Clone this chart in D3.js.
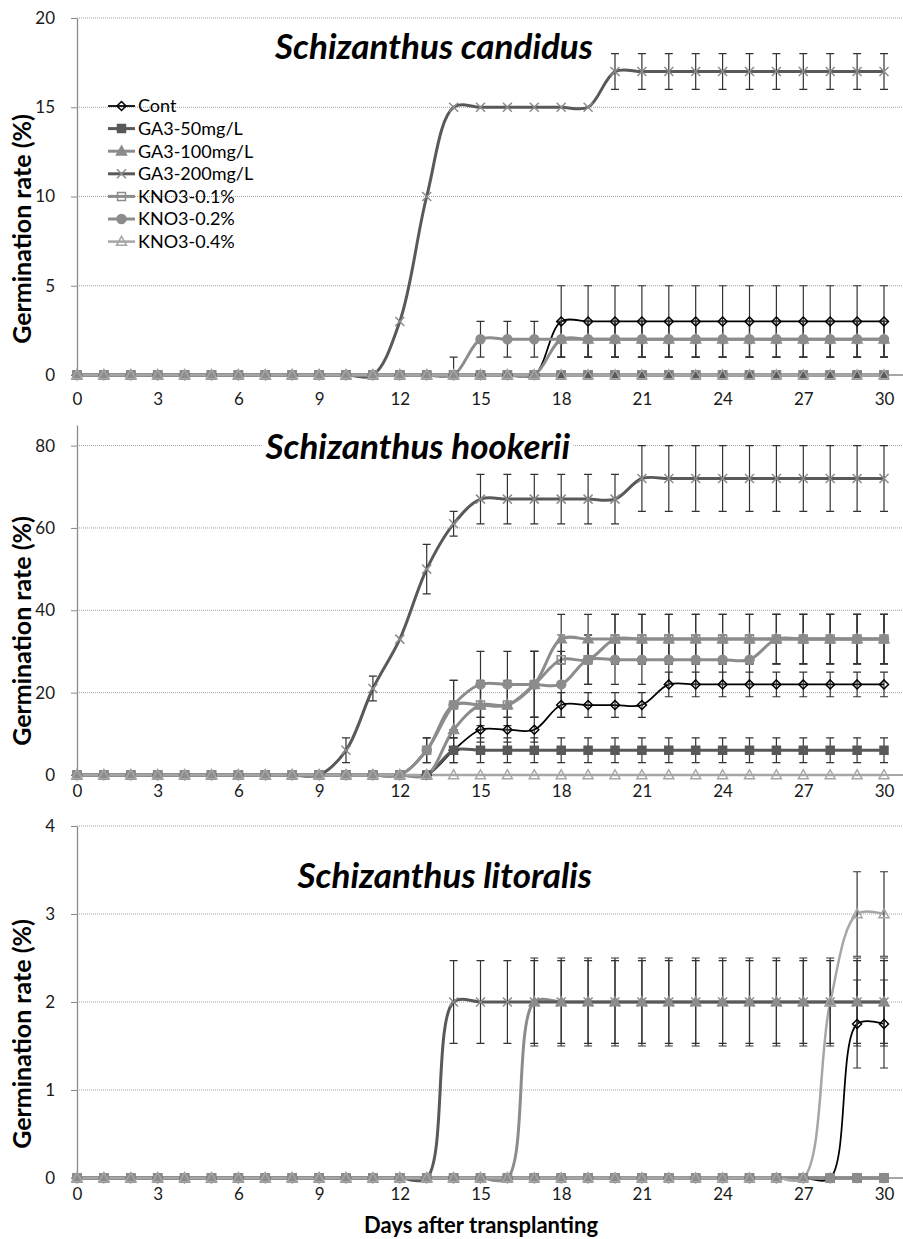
<!DOCTYPE html>
<html>
<head>
<meta charset="utf-8">
<script src="https://cdn.jsdelivr.net/npm/d3@7"></script>
<style>
  body { margin: 0; background: #fff; }
  svg { display: block; font-family: Lato, "Open Sans", sans-serif; }
</style>
</head>
<body>
<svg id="chart" width="903" height="1239"></svg>
<script>
// ---- data ----
var days = [0,1,2,3,4,5,6,7,8,9,10,11,12,13,14,15,16,17,18,19,20,21,22,23,24,25,26,27,28,29,30];
var xTicks = [0,3,6,9,12,15,18,21,24,27,30];
var seriesNames = ['Cont', 'GA3-50mg/L', 'GA3-100mg/L', 'GA3-200mg/L', 'KNO3-0.1%', 'KNO3-0.2%', 'KNO3-0.4%'];

// Schizanthus candidus
var candidusTicks = [0, 5, 10, 15, 20];
var candidusCont   = [0,0,0,0,0,0,0,0,0,0,0,0,0,0,0,0,0,0,3,3,3,3,3,3,3,3,3,3,3,3,3];
var candidusGA50   = [0,0,0,0,0,0,0,0,0,0,0,0,0,0,0,0,0,0,0,0,0,0,0,0,0,0,0,0,0,0,0];
var candidusGA100  = [0,0,0,0,0,0,0,0,0,0,0,0,0,0,0,0,0,0,2,2,2,2,2,2,2,2,2,2,2,2,2];
var candidusGA200  = [0,0,0,0,0,0,0,0,0,0,0,0,3,10,15,15,15,15,15,15,17,17,17,17,17,17,17,17,17,17,17];
var candidusKNO01  = [0,0,0,0,0,0,0,0,0,0,0,0,0,0,0,0,0,0,0,0,0,0,0,0,0,0,0,0,0,0,0];
var candidusKNO02  = [0,0,0,0,0,0,0,0,0,0,0,0,0,0,0,2,2,2,2,2,2,2,2,2,2,2,2,2,2,2,2];
var candidusKNO04  = [0,0,0,0,0,0,0,0,0,0,0,0,0,0,0,0,0,0,0,0,0,0,0,0,0,0,0,0,0,0,0];
var candidusContErr  = [0,0,0,0,0,0,0,0,0,0,0,0,0,0,0,0,0,0,2,2,2,2,2,2,2,2,2,2,2,2,2];
var candidusGA50Err  = [0,0,0,0,0,0,0,0,0,0,0,0,0,0,0,0,0,0,0,0,0,0,0,0,0,0,0,0,0,0,0];
var candidusGA100Err = [0,0,0,0,0,0,0,0,0,0,0,0,0,0,0,0,0,0,1,1,1,1,1,1,1,1,1,1,1,1,1];
var candidusGA200Err = [0,0,0,0,0,0,0,0,0,0,0,0,0,0,0,0,0,0,0,0,1,1,1,1,1,1,1,1,1,1,1];
var candidusKNO01Err = [0,0,0,0,0,0,0,0,0,0,0,0,0,0,0,0,0,0,0,0,0,0,0,0,0,0,0,0,0,0,0];
var candidusKNO02Err = [0,0,0,0,0,0,0,0,0,0,0,0,0,0,1,1,1,1,1,1,1,1,1,1,1,1,1,1,1,1,1];
var candidusKNO04Err = [0,0,0,0,0,0,0,0,0,0,0,0,0,0,0,0,0,0,0,0,0,0,0,0,0,0,0,0,0,0,0];

// Schizanthus hookerii
var hookeriiTicks = [0, 20, 40, 60, 80];
var hookeriiCont   = [0,0,0,0,0,0,0,0,0,0,0,0,0,0,6,11,11,11,17,17,17,17,22,22,22,22,22,22,22,22,22];
var hookeriiGA50   = [0,0,0,0,0,0,0,0,0,0,0,0,0,0,6,6,6,6,6,6,6,6,6,6,6,6,6,6,6,6,6];
var hookeriiGA100  = [0,0,0,0,0,0,0,0,0,0,0,0,0,0,11,17,17,22,33,33,33,33,33,33,33,33,33,33,33,33,33];
var hookeriiGA200  = [0,0,0,0,0,0,0,0,0,0,6,21,33,50,61,67,67,67,67,67,67,72,72,72,72,72,72,72,72,72,72];
var hookeriiKNO01  = [0,0,0,0,0,0,0,0,0,0,0,0,0,6,17,17,17,22,28,28,33,33,33,33,33,33,33,33,33,33,33];
var hookeriiKNO02  = [0,0,0,0,0,0,0,0,0,0,0,0,0,6,17,22,22,22,22,28,28,28,28,28,28,28,33,33,33,33,33];
var hookeriiKNO04  = [0,0,0,0,0,0,0,0,0,0,0,0,0,0,0,0,0,0,0,0,0,0,0,0,0,0,0,0,0,0,0];
var hookeriiContErr  = [0,0,0,0,0,0,0,0,0,0,0,0,0,0,3,3,3,3,3,3,3,3,3,3,3,3,3,3,3,3,3];
var hookeriiGA50Err  = [0,0,0,0,0,0,0,0,0,0,0,0,0,0,3,3,3,3,3,3,3,3,3,3,3,3,3,3,3,3,3];
var hookeriiGA100Err = [0,0,0,0,0,0,0,0,0,0,0,0,0,0,6,5,5,8,6,6,6,6,6,6,6,6,6,6,6,6,6];
var hookeriiGA200Err = [0,0,0,0,0,0,0,0,0,0,3,3,0,6,3,6,6,6,6,6,6,8,8,8,8,8,8,8,8,8,8];
var hookeriiKNO01Err = [0,0,0,0,0,0,0,0,0,0,0,0,0,3,6,6,6,8,6,6,6,6,6,6,6,6,6,6,6,6,6];
var hookeriiKNO02Err = [0,0,0,0,0,0,0,0,0,0,0,0,0,3,6,8,8,8,8,6,6,6,6,6,6,6,6,6,6,6,6];
var hookeriiKNO04Err = [0,0,0,0,0,0,0,0,0,0,0,0,0,0,0,0,0,0,0,0,0,0,0,0,0,0,0,0,0,0,0];

// Schizanthus litoralis
var litoralisTicks = [0, 1, 2, 3, 4];
var litoralisCont   = [0,0,0,0,0,0,0,0,0,0,0,0,0,0,0,0,0,0,0,0,0,0,0,0,0,0,0,0,0,1.75,1.75];
var litoralisGA50   = [0,0,0,0,0,0,0,0,0,0,0,0,0,0,0,0,0,0,0,0,0,0,0,0,0,0,0,0,0,0,0];
var litoralisGA100  = [0,0,0,0,0,0,0,0,0,0,0,0,0,0,0,0,0,2,2,2,2,2,2,2,2,2,2,2,2,2,2];
var litoralisGA200  = [0,0,0,0,0,0,0,0,0,0,0,0,0,0,2,2,2,2,2,2,2,2,2,2,2,2,2,2,2,2,2];
var litoralisKNO01  = [0,0,0,0,0,0,0,0,0,0,0,0,0,0,0,0,0,0,0,0,0,0,0,0,0,0,0,0,0,0,0];
var litoralisKNO02  = [0,0,0,0,0,0,0,0,0,0,0,0,0,0,0,0,0,0,0,0,0,0,0,0,0,0,0,0,0,0,0];
var litoralisKNO04  = [0,0,0,0,0,0,0,0,0,0,0,0,0,0,0,0,0,0,0,0,0,0,0,0,0,0,0,0,2,3,3];
var litoralisContErr  = [0,0,0,0,0,0,0,0,0,0,0,0,0,0,0,0,0,0,0,0,0,0,0,0,0,0,0,0,0,0.5,0.5];
var litoralisGA50Err  = [0,0,0,0,0,0,0,0,0,0,0,0,0,0,0,0,0,0,0,0,0,0,0,0,0,0,0,0,0,0,0];
var litoralisGA100Err = [0,0,0,0,0,0,0,0,0,0,0,0,0,0,0,0,0,0.5,0.5,0.5,0.5,0.5,0.5,0.5,0.5,0.5,0.5,0.5,0.5,0.5,0.5];
var litoralisGA200Err = [0,0,0,0,0,0,0,0,0,0,0,0,0,0,0.47,0.47,0.47,0.47,0.47,0.47,0.47,0.47,0.47,0.47,0.47,0.47,0.47,0.47,0.47,0.47,0.47];
var litoralisKNO01Err = [0,0,0,0,0,0,0,0,0,0,0,0,0,0,0,0,0,0,0,0,0,0,0,0,0,0,0,0,0,0,0];
var litoralisKNO02Err = [0,0,0,0,0,0,0,0,0,0,0,0,0,0,0,0,0,0,0,0,0,0,0,0,0,0,0,0,0,0,0];
var litoralisKNO04Err = [0,0,0,0,0,0,0,0,0,0,0,0,0,0,0,0,0,0,0,0,0,0,0,0,0,0,0,0,0,0.48,0.48];

// ---- look ----
var styles = [
    { line: '#000000', width: 1.75, marker: 'diamond',  fill: 'none',    edge: '#000000', r: 4.5 },
    { line: '#595959', width: 3,    marker: 'square',   fill: '#595959', edge: '#595959', r: 4 },
    { line: '#8c8c8c', width: 3,    marker: 'triangle', fill: '#8c8c8c', edge: '#8c8c8c', r: 5 },
    { line: '#595959', width: 3,    marker: 'x',        fill: 'none',    edge: '#8c8c8c', r: 4.5 },
    { line: '#8c8c8c', width: 3,    marker: 'square',   fill: 'none',    edge: '#8c8c8c', r: 4 },
    { line: '#8c8c8c', width: 3,    marker: 'circle',   fill: '#8c8c8c', edge: '#8c8c8c', r: 4.5 },
    { line: '#a6a6a6', width: 2.5,  marker: 'triangle', fill: 'none',    edge: '#a6a6a6', r: 5 }
];

var panels = [
    { title: 'Schizanthus candidus', ticks: candidusTicks, yMax: 20, top: 18, zero: 375,
      titleX: 593, titleY: 59, labelPad: 18, yTitleY: 229, legend: true,
      values: [candidusCont, candidusGA50, candidusGA100, candidusGA200, candidusKNO01, candidusKNO02, candidusKNO04],
      errors: [candidusContErr, candidusGA50Err, candidusGA100Err, candidusGA200Err, candidusKNO01Err, candidusKNO02Err, candidusKNO04Err] },
    { title: 'Schizanthus hookerii', ticks: hookeriiTicks, yMax: 85, top: 425, zero: 775,
      titleX: 570, titleY: 459, labelPad: 10, yTitleY: 631, legend: false,
      values: [hookeriiCont, hookeriiGA50, hookeriiGA100, hookeriiGA200, hookeriiKNO01, hookeriiKNO02, hookeriiKNO04],
      errors: [hookeriiContErr, hookeriiGA50Err, hookeriiGA100Err, hookeriiGA200Err, hookeriiKNO01Err, hookeriiKNO02Err, hookeriiKNO04Err] },
    { title: 'Schizanthus litoralis', ticks: litoralisTicks, yMax: 4, top: 826, zero: 1178,
      titleX: 592, titleY: 888, labelPad: 10, yTitleY: 1034, legend: false,
      values: [litoralisCont, litoralisGA50, litoralisGA100, litoralisGA200, litoralisKNO01, litoralisKNO02, litoralisKNO04],
      errors: [litoralisContErr, litoralisGA50Err, litoralisGA100Err, litoralisGA200Err, litoralisKNO01Err, litoralisKNO02Err, litoralisKNO04Err] }
];

var svg = d3.select('#chart');
var width = 903;
var x = d3.scaleLinear().domain([0, 30]).range([77, 884]);

var markerPath = function (type, r) {
    if (type === 'diamond') return 'M0,' + (-r) + 'L' + r + ',0L0,' + r + 'L' + (-r) + ',0Z';
    if (type === 'square') return 'M' + (-r) + ',' + (-r) + 'h' + 2 * r + 'v' + 2 * r + 'h' + (-2 * r) + 'Z';
    if (type === 'triangle') return 'M0,' + (-r * 1.05) + 'L' + r + ',' + (r * 0.75) + 'L' + (-r) + ',' + (r * 0.75) + 'Z';
    if (type === 'x') return 'M' + (-r) + ',' + (-r) + 'L' + r + ',' + r + 'M' + (-r) + ',' + r + 'L' + r + ',' + (-r);
    return d3.symbol().type(d3.symbolCircle).size(Math.PI * r * r)();
};

var drawMarker = function (sel, st) {
    sel.append('path')
        .attr('d', markerPath(st.marker, st.r))
        .attr('fill', st.fill)
        .attr('stroke', st.edge)
        .attr('stroke-width', 1.5);
};

panels.forEach(function (p) {
    var y = d3.scaleLinear().domain([0, p.yMax]).range([p.zero, p.top]);
    var g = svg.append('g');

    // gridlines
    g.selectAll('line.gridline')
        .data(p.ticks.filter(function (t) { return t > 0; }))
        .enter().append('line')
        .attr('class', 'gridline')
        .attr('x1', x(0)).attr('x2', width)
        .attr('y1', function (d) { return y(d); })
        .attr('y2', function (d) { return y(d); })
        .attr('stroke', '#a0a0a0')
        .attr('stroke-dasharray', '1,1');

    // y axis
    var yAxis = g.append('g')
        .attr('transform', 'translate(' + x(0) + ',0)')
        .call(d3.axisLeft(y).tickValues(p.ticks).tickFormat(d3.format('d'))
            .tickSize(6).tickSizeOuter(0).tickPadding(16));
    yAxis.attr('font-family', null).attr('font-size', 17);
    yAxis.select('.domain').attr('stroke', '#8a8a8a').attr('stroke-width', 1.3);
    yAxis.selectAll('.tick line').attr('stroke', '#8a8a8a');
    yAxis.selectAll('.tick text').attr('fill', '#1a1a1a');

    // x axis line + labels
    g.append('line')
        .attr('x1', x(0)).attr('x2', width)
        .attr('y1', y(0)).attr('y2', y(0))
        .attr('stroke', '#8a8a8a').attr('stroke-width', 1.3);
    var xAxis = g.append('g')
        .attr('transform', 'translate(0,' + y(0) + ')')
        .call(d3.axisBottom(x).tickValues(xTicks).tickSize(0).tickPadding(p.labelPad));
    xAxis.attr('font-family', null).attr('font-size', 17);
    xAxis.select('.domain').remove();
    xAxis.selectAll('.tick text').attr('fill', '#1a1a1a');

    // panel title (white box behind it hides the gridline it sits on)
    var tg = g.append('g');
    var title = tg.append('text')
        .attr('x', p.titleX).attr('y', p.titleY)
        .attr('text-anchor', 'end')
        .attr('font-size', 35)
        .attr('font-weight', 'bold')
        .attr('font-style', 'italic')
        .attr('fill', '#000')
        .text(p.title);
    var bb = title.node().getBBox();
    tg.insert('rect', 'text')
        .attr('x', bb.x - 3).attr('y', bb.y + 2)
        .attr('width', bb.width + 6).attr('height', bb.height - 4)
        .attr('fill', '#fff');

    // lines
    var line = d3.line()
        .x(function (d) { return x(d.day); })
        .y(function (d) { return y(d.v); })
        .curve(d3.curveCatmullRom.alpha(0.5));

    var rows = p.values.map(function (vals, i) {
        return days.map(function (day, j) {
            return { day: day, v: vals[j], e: p.errors[i][j] };
        });
    });

    rows.forEach(function (pts, i) {
        g.append('path')
            .datum(pts)
            .attr('d', line)
            .attr('fill', 'none')
            .attr('stroke', styles[i].line)
            .attr('stroke-width', styles[i].width)
            .attr('stroke-linejoin', 'round');
    });

    // error bars
    rows.forEach(function (pts) {
        g.append('g').selectAll('path')
            .data(pts.filter(function (d) { return d.e > 0; }))
            .enter().append('path')
            .attr('d', function (d) {
                var cx = x(d.day), hi = y(d.v + d.e), lo = y(Math.max(0, d.v - d.e));
                var s = 'M' + cx + ',' + hi + 'V' + lo + 'M' + (cx - 4) + ',' + hi + 'H' + (cx + 4);
                if (d.v - d.e > 0) s += 'M' + (cx - 4) + ',' + lo + 'H' + (cx + 4);
                return s;
            })
            .attr('fill', 'none')
            .attr('stroke', '#333')
            .attr('stroke-width', 1.2);
    });

    // markers
    rows.forEach(function (pts, i) {
        g.append('g').selectAll('g')
            .data(pts)
            .enter().append('g')
            .attr('transform', function (d) { return 'translate(' + x(d.day) + ',' + y(d.v) + ')'; })
            .each(function () { drawMarker(d3.select(this), styles[i]); });
    });

    // y axis title
    g.append('text')
        .attr('transform', 'translate(31,' + p.yTitleY + ') rotate(-90)')
        .attr('text-anchor', 'middle')
        .attr('font-size', 25)
        .attr('font-weight', 'bold')
        .attr('fill', '#000')
        .text('Germination rate (%)');

    if (p.legend) {
        var lg = g.append('g');
        seriesNames.forEach(function (name, i) {
            var ly = 106 + i * 22.6;
            var row = lg.append('g').attr('transform', 'translate(0,' + ly + ')');
            row.append('line')
                .attr('x1', 108).attr('x2', 135)
                .attr('stroke', styles[i].line)
                .attr('stroke-width', styles[i].width);
            var m = row.append('g').attr('transform', 'translate(121.5,0)');
            drawMarker(m, styles[i]);
            row.append('text')
                .attr('x', 138).attr('dy', '0.35em')
                .attr('font-size', 18)
                .attr('fill', '#000')
                .text(name);
        });
    }
});

// x axis title
svg.append('text')
    .attr('x', 481).attr('y', 1233)
    .attr('text-anchor', 'middle')
    .attr('font-size', 22)
    .attr('font-weight', 'bold')
    .attr('fill', '#000')
    .text('Days after transplanting');
</script>
</body>
</html>
